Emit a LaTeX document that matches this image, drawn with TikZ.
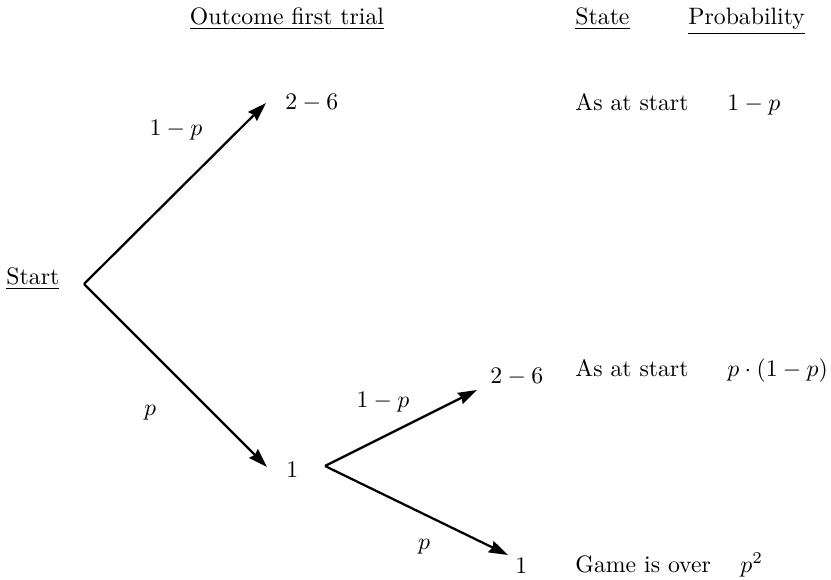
\documentclass[tikz,border=0pt]{standalone}
\usetikzlibrary{arrows.meta}
\begin{document}
\begin{tikzpicture}[x=0.4215pt,y=-0.4215pt,
  branch/.style={line width=0.95pt,-{Stealth[length=8pt,width=5.2pt,inset=0.8pt]}},
  txt/.style={anchor=base west,inner sep=0pt},
  lbl/.style={inner sep=0pt}]
\useasboundingbox (0,0) rectangle (831,580);
% headers
\node[anchor=base,inner sep=0pt] (hout) at (287,25) {\underline{Outcome first trial}};
\node[txt] (hstate) at (575,25) {\underline{State}};
\node[txt] (hprob) at (688,25) {\underline{Probability}};
% start
\node[txt] (start) at (6,285) {\underline{Start}};
\coordinate (A) at (84,284);
\coordinate (B) at (325,466);
\coordinate (t1) at (266,103);
\coordinate (t2) at (267,467);
\coordinate (t3) at (477,390);
\coordinate (t4) at (508,555);
% outcomes
\node[txt] (o1) at (285,110) {$2-6$};
\node[txt] (o2) at (286,477) {$1$};
\node[txt] (o3) at (490,383) {$2-6$};
\node[txt] (o4) at (515,573) {$1$};
% branches
\draw[branch] (A) -- (t1);
\draw[branch] (A) -- (t2);
\draw[branch] (B) -- (t3);
\draw[branch] (B) -- (t4);
% branch labels
\node[lbl] (l1) at (176,130) {$1-p$};
\node[lbl] (l2) at (150,413) {$p$};
\node[lbl] (l3) at (383,402) {$1-p$};
\node[lbl] (l4) at (424,547) {$p$};
% states and probabilities
\node[txt] (s1) at (575,111) {As at start};
\node[txt] (p1) at (727,111) {$1-p$};
\node[txt] (s2) at (575,377) {As at start};
\node[txt] (p2) at (727,377) {$p\cdot(1-p)$};
\node[txt] (s3) at (575,572) {Game is over};
\node[txt] (p3) at (740,572) {$p^2$};
\end{tikzpicture}
\end{document}
